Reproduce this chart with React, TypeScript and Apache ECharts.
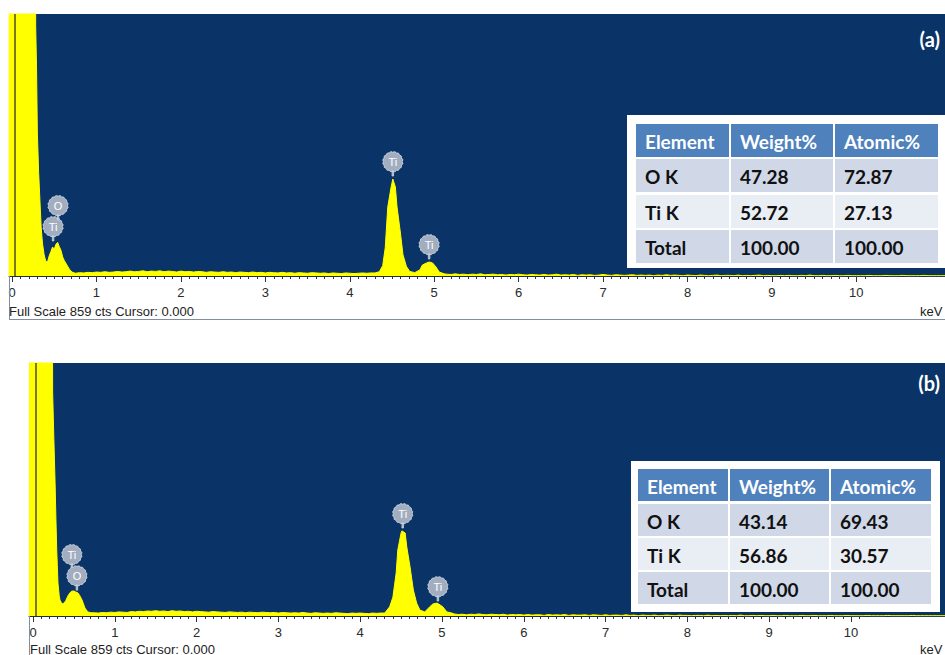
import React, { useEffect, useRef } from "react";
import * as echarts from "echarts";

type Pt = [number, number];

// ---- spectrum data (energy in keV, intensity in counts) ----
const FULL_SCALE = 859;
const CURSOR_KEV = 0.03;
const BG_STEP = 0.05;

// Spectrum (a)
const A_KEV_MIN = -0.036;
const A_KEV_MAX = 11.05;
const A_LEAD: Pt[] = [
  [-0.04, 2000], [0.27, 2000], [0.28, 820], [0.29, 686], [0.3, 469], [0.315, 340],
  [0.33, 249], [0.345, 160], [0.36, 108], [0.38, 70], [0.4, 48], [0.42, 46],
  [0.44, 66], [0.46, 80], [0.48, 95], [0.5, 88], [0.52, 104], [0.54, 110],
  [0.56, 96], [0.58, 84], [0.6, 62], [0.62, 50], [0.65, 36], [0.68, 22], [0.71, 13],
];
const A_BG_LOW_START = 0.75;
const A_BG_LOW = [
  9, 11, 10, 12, 11, 13, 12, 14, 12, 13,
  15, 13, 14, 16, 14, 15, 17, 14, 16, 15,
  17, 14, 16, 15, 13, 16, 14, 15, 13, 15,
  14, 12, 14, 13, 12, 14, 12, 13, 11, 13,
  12, 11, 13, 11, 12, 10, 12, 11, 10, 12,
  10, 11, 9, 11, 10, 9, 11, 10, 9, 10,
  8, 10, 9, 8, 10, 9, 8, 9, 10, 9,
  10,
];
const A_TI: Pt[] = [
  [4.3, 10], [4.35, 14], [4.39, 34], [4.42, 92], [4.45, 226], [4.49, 292],
  [4.51, 318], [4.54, 292], [4.56, 226], [4.6, 141], [4.63, 70], [4.67, 32],
  [4.71, 15], [4.77, 11], [4.83, 20], [4.86, 36], [4.91, 43], [4.94, 46],
  [4.98, 43], [5.02, 30], [5.06, 13], [5.12, 7],
];
const A_BG_HIGH_START = 5.15;
const A_BG_HIGH = [
  6, 5, 7, 5, 6, 4, 6, 5, 7, 4, 5, 6, 4, 5, 3, 5, 4, 6,
  4, 3, 5, 4, 3, 5, 3, 4, 6, 3, 4, 3, 5, 2, 4, 3, 4, 2, 3, 5,
  3, 2, 4, 3, 2, 3, 4, 2, 3, 2, 3, 1, 3, 2, 4, 2, 3, 2, 1, 3,
  2, 1, 3, 2, 1, 2, 3, 1, 2, 2, 1, 3, 1, 2, 1, 2, 3, 1, 2, 1,
  1, 2, 1, 2, 1, 1, 2, 1, 3, 1, 1, 2, 1, 1, 2, 1, 1, 2, 1, 1,
  1, 1, 2, 1, 1, 1, 2, 1, 1, 1, 2, 1, 1, 1, 1, 2, 1, 1, 1, 1, 1,
];
const A_PEAK_NAMES = ["Ti", "O", "Ti", "Ti"];
const A_PEAK_POINTS: Pt[] = [[0.486, 115], [0.545, 184], [4.51, 328], [4.94, 56]];

// Spectrum (b)
const B_KEV_MIN = -0.049;
const B_KEV_MAX = 11.15;
const B_LEAD: Pt[] = [
  [-0.05, 2000], [0.23, 2000], [0.24, 760], [0.255, 600], [0.27, 451], [0.28, 330],
  [0.29, 224], [0.305, 112], [0.32, 70], [0.33, 54], [0.355, 41], [0.38, 44],
  [0.4, 52], [0.415, 61], [0.43, 70], [0.45, 78], [0.47, 84], [0.5, 85],
  [0.52, 82], [0.55, 78], [0.57, 70], [0.6, 54], [0.635, 27], [0.67, 14], [0.71, 11],
];
const B_BG_LOW_START = 0.75;
const B_BG_LOW = [
  11, 10, 12, 11, 13, 12, 14, 13, 12, 15,
  14, 16, 15, 17, 16, 18, 16, 17, 15, 18,
  16, 17, 15, 16, 14, 16, 15, 14, 13, 15,
  14, 13, 12, 14, 13, 12, 13, 11, 13, 12,
  11, 13, 12, 11, 12, 10, 12, 11, 10, 11,
  10, 12, 10, 9, 11, 10, 9, 10, 9, 11,
  10, 9, 8, 10, 9, 10, 9, 8, 10, 9,
  10,
];
const B_TI: Pt[] = [
  [4.3, 10], [4.36, 31], [4.4, 64], [4.44, 146], [4.46, 224], [4.5, 282],
  [4.51, 289], [4.55, 282], [4.57, 234], [4.61, 166], [4.65, 88], [4.69, 44],
  [4.73, 20], [4.79, 14], [4.85, 31], [4.89, 41], [4.94, 44], [4.98, 37],
  [5.01, 31], [5.06, 14], [5.12, 10],
];
const B_BG_HIGH_START = 5.15;
const B_BG_HIGH = [
  7, 5, 6, 4, 6, 5, 7, 5, 4, 6, 5, 4, 6, 3, 5, 4, 5, 3,
  5, 3, 4, 4, 2, 5, 3, 4, 3, 5, 2, 4, 3, 3, 4, 2, 4, 3, 2, 4,
  2, 3, 3, 2, 4, 2, 3, 1, 3, 2, 2, 3, 1, 2, 3, 2, 1, 3, 2, 2,
  1, 2, 2, 1, 3, 1, 2, 1, 2, 1, 2, 1, 3, 1, 1, 2, 1, 2, 1, 1,
  2, 1, 1, 2, 1, 1, 1, 2, 1, 1, 2, 1, 1, 1, 2, 1, 1, 1, 2, 1,
  1, 1, 1, 2, 1, 1, 1, 1, 2, 1, 1, 1, 1, 1, 2, 1, 1, 1, 1, 1, 1, 1, 1,
];
const B_PEAK_NAMES = ["Ti", "O", "Ti", "Ti"];
const B_PEAK_POINTS: Pt[] = [[0.475, 160], [0.537, 88], [4.52, 299], [4.95, 51]];

// Axis ticks (keV)
const MAJOR_TICKS = [0, 1, 2, 3, 4, 5, 6, 7, 8, 9, 10];
const MINOR_TICKS = Array.from({ length: 102 }, (_, i) => i / 10);

// Quantification tables
const TABLE_HEAD = ["Element", "Weight%", "Atomic%"];
const ELEMENTS = ["O K", "Ti K", "Total"];
const A_WEIGHT = [47.28, 52.72, 100.0];
const A_ATOMIC = [72.87, 27.13, 100.0];
const B_WEIGHT = [43.14, 56.86, 100.0];
const B_ATOMIC = [69.43, 30.57, 100.0];

// ---- styling ----
const NAVY = "#0a3468";
const YELLOW = "#ffff00";
const FRAME = "#7f8fa1";
const SANS = '"Liberation Sans", Arial, sans-serif';
const TABLE_FONT = 'Lato, "Open Sans", sans-serif';

function bgSegment(start: number, counts: number[]): Pt[] {
  return counts.map((c, i) => [+(start + i * BG_STEP).toFixed(3), c] as Pt);
}

function spectrum(lead: Pt[], lowStart: number, low: number[], ti: Pt[], highStart: number, high: number[]): Pt[] {
  return [...lead, ...bgSegment(lowStart, low), ...ti, ...bgSegment(highStart, high)];
}

// Scalloped marker with a short stem; the stem tip sits on the data point.
function markerPath(): string {
  const n = 16, cx = 10, cy = 10, rIn = 8.6, rOut = 10.2;
  let d = "M0 0 M20 23 ";
  for (let i = 0; i < n; i++) {
    const a0 = (i / n) * Math.PI * 2;
    const a1 = ((i + 1) / n) * Math.PI * 2;
    const am = (a0 + a1) / 2;
    const p0 = [cx + rIn * Math.cos(a0), cy + rIn * Math.sin(a0)];
    const c = [cx + rOut * Math.cos(am), cy + rOut * Math.sin(am)];
    const p1 = [cx + rIn * Math.cos(a1), cy + rIn * Math.sin(a1)];
    if (i === 0) d += `M${p0[0].toFixed(2)} ${p0[1].toFixed(2)} `;
    d += `Q${c[0].toFixed(2)} ${c[1].toFixed(2)} ${p1[0].toFixed(2)} ${p1[1].toFixed(2)} `;
  }
  d += "Z M9.3 18.5 L10.7 18.5 L10.7 23 L9.3 23 Z";
  return "path://" + d;
}

interface PanelLayout {
  left: number;
  top: number;
  height: number;
  min: number;
  max: number;
}

function panelAxes(i: number, p: PanelLayout) {
  const common = { type: "value", gridIndex: i, min: p.min, max: p.max, position: "bottom", splitLine: { show: false } };
  return [
    {
      ...common,
      axisLine: { show: true, onZero: false, lineStyle: { color: "#1f2d44", width: 1 } },
      axisTick: { show: true, customValues: MINOR_TICKS, length: 3, lineStyle: { color: "#333", width: 1 } },
      axisLabel: {
        show: true,
        customValues: MAJOR_TICKS,
        margin: 10,
        fontSize: 13,
        fontFamily: SANS,
        color: "#2a2a2a",
        formatter: (v: number) => String(v),
      },
    },
    {
      ...common,
      axisLine: { show: false },
      axisTick: { show: true, customValues: MAJOR_TICKS, length: 6, lineStyle: { color: "#333", width: 1 } },
      axisLabel: { show: false },
    },
  ];
}

function panelSeries(i: number, data: Pt[], names: string[], points: Pt[], symbol: string) {
  return [
    {
      type: "line",
      xAxisIndex: i * 2,
      yAxisIndex: i,
      data,
      symbol: "none",
      showSymbol: false,
      clip: true,
      silent: true,
      lineStyle: { color: YELLOW, width: 1 },
      areaStyle: { color: YELLOW, opacity: 1 },
      z: 2,
      markLine: {
        symbol: "none",
        silent: true,
        label: { show: false },
        lineStyle: { color: "#4f4a30", width: 1.5, type: "solid" },
        data: [{ xAxis: CURSOR_KEV }],
      },
    },
    {
      type: "scatter",
      xAxisIndex: i * 2,
      yAxisIndex: i,
      data: points.map((pt, k) => ({ name: names[k], value: pt })),
      symbol,
      symbolSize: [22, 25.3],
      symbolOffset: [0, -12.6],
      silent: true,
      z: 5,
      itemStyle: { color: "#a2aec0", borderColor: "#d0d6df", borderWidth: 0.8, opacity: 1 },
      label: {
        show: true,
        position: "inside",
        offset: [0, -1.3],
        formatter: "{b}",
        color: "#ffffff",
        fontSize: 11,
        fontFamily: SANS,
      },
    },
  ];
}

interface TableLayout {
  box: [number, number, number, number];
  headTop: number;
  rowH: number;
  colX: number[];
  colW: number[];
  rowTops: number[];
  pad: number;
  fontSize: number;
}

function tableGraphics(t: TableLayout, weights: number[], atomics: number[]) {
  const out: any[] = [];
  out.push({ type: "rect", shape: { x: t.box[0], y: t.box[1], width: t.box[2], height: t.box[3] }, style: { fill: "#ffffff" }, z: 10 });
  const font = `bold ${t.fontSize}px ${TABLE_FONT}`;
  TABLE_HEAD.forEach((h, c) => {
    out.push({ type: "rect", shape: { x: t.colX[c], y: t.headTop, width: t.colW[c], height: t.rowH }, style: { fill: "#4f81bd" }, z: 11 });
    out.push({
      type: "text",
      z: 12,
      style: { text: h, x: t.colX[c] + t.pad, y: t.headTop + t.rowH / 2 + 1, font, fill: "#ffffff", align: "left", verticalAlign: "middle" },
    });
  });
  ELEMENTS.forEach((el, r) => {
    const cells = [el, weights[r].toFixed(2), atomics[r].toFixed(2)];
    cells.forEach((txt, c) => {
      out.push({
        type: "rect",
        shape: { x: t.colX[c], y: t.rowTops[r], width: t.colW[c], height: t.rowH },
        style: { fill: r % 2 === 0 ? "#d0d8e8" : "#e9edf4" },
        z: 11,
      });
      out.push({
        type: "text",
        z: 12,
        style: { text: txt, x: t.colX[c] + t.pad, y: t.rowTops[r] + t.rowH / 2 + 1, font, fill: "#111111", align: "left", verticalAlign: "middle" },
      });
    });
  });
  return out;
}

export default function App() {
  const ref = useRef<HTMLDivElement>(null);

  useEffect(() => {
    if (!ref.current) return;
    const chart = echarts.init(ref.current, undefined, { renderer: "svg" });
    const symbol = markerPath();

    const pa: PanelLayout = { left: 9, top: 14, height: 262, min: A_KEV_MIN, max: A_KEV_MAX };
    const pb: PanelLayout = { left: 29, top: 363, height: 253, min: B_KEV_MIN, max: B_KEV_MAX };

    const dataA = spectrum(A_LEAD, A_BG_LOW_START, A_BG_LOW, A_TI, A_BG_HIGH_START, A_BG_HIGH);
    const dataB = spectrum(B_LEAD, B_BG_LOW_START, B_BG_LOW, B_TI, B_BG_HIGH_START, B_BG_HIGH);

    const tableA: TableLayout = {
      box: [627, 115, 318, 153],
      headTop: 124,
      rowH: 33,
      colX: [636, 731, 835],
      colW: [93, 102, 103],
      rowTops: [159, 195, 230],
      pad: 9,
      fontSize: 19,
    };
    const tableB: TableLayout = {
      box: [631, 461, 309, 151],
      headTop: 469,
      rowH: 32,
      colX: [638, 730, 831],
      colW: [90, 99, 100],
      rowTops: [504, 538, 572],
      pad: 9,
      fontSize: 19,
    };

    const footer = `Full Scale ${FULL_SCALE} cts Cursor: ${(0).toFixed(3)}`;
    const textStyle = (text: string, x: number, y: number) => ({
      type: "text",
      z: 12,
      style: { text, x, y, font: `13px ${SANS}`, fill: "#222222", align: "left", verticalAlign: "middle" },
    });

    const graphics: any[] = [
      { type: "line", shape: { x1: 9.5, y1: 276, x2: 9.5, y2: 319 }, style: { stroke: FRAME, lineWidth: 1 }, z: 12 },
      { type: "line", shape: { x1: 9, y1: 319.5, x2: 945, y2: 319.5 }, style: { stroke: FRAME, lineWidth: 1 }, z: 12 },
      { type: "line", shape: { x1: 29.5, y1: 616, x2: 29.5, y2: 655 }, style: { stroke: FRAME, lineWidth: 1 }, z: 12 },
      textStyle(footer, 9, 311),
      textStyle("keV", 920, 311),
      textStyle(footer, 30, 649),
      textStyle("keV", 920, 649),
      {
        type: "text",
        z: 12,
        style: { text: "(a)", x: 940, y: 39, font: `bold 20px ${TABLE_FONT}`, fill: "#ffffff", align: "right", verticalAlign: "middle" },
      },
      {
        type: "text",
        z: 12,
        style: { text: "(b)", x: 940, y: 383, font: `bold 20px ${TABLE_FONT}`, fill: "#ffffff", align: "right", verticalAlign: "middle" },
      },
      ...tableGraphics(tableA, A_WEIGHT, A_ATOMIC),
      ...tableGraphics(tableB, B_WEIGHT, B_ATOMIC),
    ];

    chart.setOption({
      animation: false,
      backgroundColor: "#ffffff",
      grid: [pa, pb].map((p) => ({
        left: p.left,
        right: 0,
        top: p.top,
        height: p.height,
        show: true,
        backgroundColor: NAVY,
        borderWidth: 0,
        containLabel: false,
      })),
      xAxis: [...panelAxes(0, pa), ...panelAxes(1, pb)],
      yAxis: [0, 1].map((i) => ({ type: "value", gridIndex: i, min: 0, max: FULL_SCALE, show: false })),
      series: [
        ...panelSeries(0, dataA, A_PEAK_NAMES, A_PEAK_POINTS, symbol),
        ...panelSeries(1, dataB, B_PEAK_NAMES, B_PEAK_POINTS, symbol),
      ],
      graphic: graphics,
    });

    return () => chart.dispose();
  }, []);

  return (
    <div
      ref={ref}
      style={{ position: "fixed", left: 0, top: 0, width: 945, height: 655, background: "#ffffff" }}
    />
  );
}
